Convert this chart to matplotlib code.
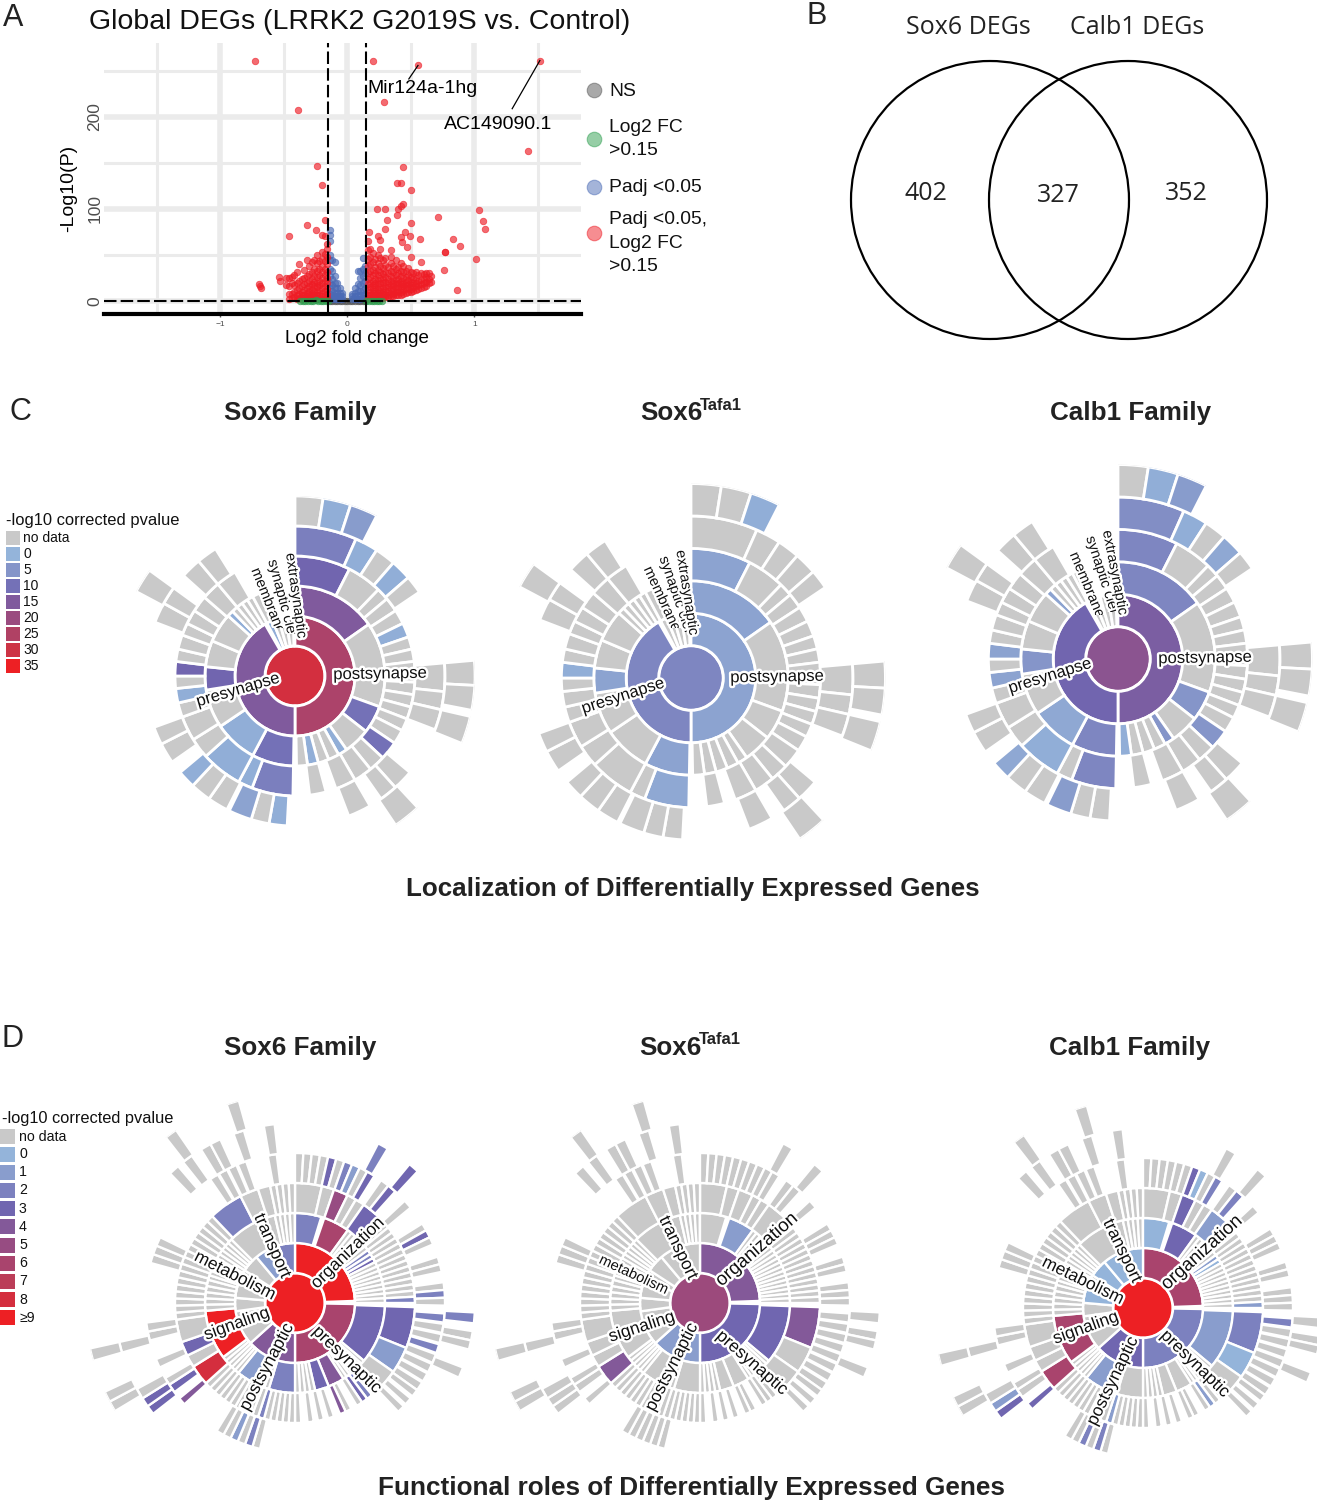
import matplotlib
matplotlib.use('Agg')
import matplotlib.pyplot as plt
import matplotlib.patheffects as pe
from matplotlib.colors import LinearSegmentedColormap
from matplotlib.patches import Circle, Rectangle
from matplotlib.transforms import Bbox
import numpy as np

plt.rcParams['font.family'] = ['Liberation Sans', 'DejaVu Sans']

W, H = 1317, 1500
N = None

# --------A: VOLCANO DATA--------
red_x = [-0.73, 0.20, 0.556, 1.516, 0.29, -0.39, 1.42, -0.24, 0.44, -0.20, 0.39, 0.42, 0.50, 0.23, 0.30, 0.40,
         0.42, 0.44, 1.04, 1.07, 1.08, 0.71, 0.39, 0.31, 0.50, -0.18, -0.32, -0.25, 0.30, 0.45, -0.20, -0.18,
         -0.46, 0.24, 0.26, 0.17, 0.57, 0.49, 0.42, 0.43, 0.83, 0.89, 0.77, 0.77, 1.01, 0.76, 0.86, 0.47, 0.34,
         0.26, 0.58, 0.50, -0.54, -0.53, -0.70, -0.69, -0.68]
red_y = [261, 260, 256, 261, 216, 207, 163, 146, 145, 126, 128, 128, 120, 100, 100, 100, 103, 105, 99, 87, 78,
         91, 93, 88, 85, 88, 82, 77, 78, 75, 72, 71, 71, 71, 66, 75, 67, 71, 69, 64, 67, 60, 53, 53, 46, 34, 12,
         59, 55, 56, 42, 48, 26, 22, 18, 16, 14]

# столбцы плотного облака: x -> значения -log10(P)
cloud_right = [(0.16, [3, 7, 12, 18, 24, 30, 38, 46, 55, 65]), (0.18, [2, 6, 10, 15, 20, 26, 33, 40, 48, 56]),
               (0.20, [2, 5, 9, 13, 17, 22, 28, 34, 42, 52]), (0.22, [3, 7, 11, 15, 19, 24, 30, 37, 46]),
               (0.24, [2, 5, 9, 13, 18, 23, 28, 34, 41, 50]), (0.26, [3, 7, 11, 15, 20, 25, 31, 38, 47]),
               (0.28, [3, 6, 10, 14, 19, 24, 29, 36, 44]), (0.30, [4, 8, 12, 16, 21, 26, 32, 39, 47]),
               (0.32, [4, 7, 11, 15, 19, 24, 30, 37]), (0.34, [5, 9, 13, 17, 22, 27, 33, 41, 48]),
               (0.36, [5, 8, 12, 16, 20, 25, 31, 38]), (0.38, [6, 10, 14, 18, 23, 28, 35, 44]),
               (0.40, [7, 11, 15, 19, 24, 30, 37]), (0.42, [7, 10, 14, 18, 22, 27, 33, 41]),
               (0.44, [8, 12, 16, 20, 25, 31, 38]), (0.46, [9, 13, 17, 21, 26, 33]),
               (0.48, [10, 14, 18, 23, 28, 36]), (0.50, [10, 13, 17, 21, 26, 31]), (0.52, [11, 15, 19, 24, 30]),
               (0.54, [12, 16, 20, 25, 31]), (0.56, [13, 17, 22, 28]), (0.58, [14, 18, 23, 30]),
               (0.60, [15, 19, 24, 29]), (0.62, [16, 21, 26, 30]), (0.64, [19, 24, 30]), (0.66, [21, 27])]
cloud_left = [(-0.16, [3, 8, 13, 19, 25, 32, 40, 48, 56, 62]), (-0.18, [2, 6, 11, 16, 22, 28, 35, 43, 51]),
              (-0.20, [2, 5, 9, 14, 19, 25, 31, 38, 46, 53]), (-0.22, [3, 7, 12, 17, 22, 28, 35, 43]),
              (-0.24, [2, 6, 10, 15, 20, 26, 33, 41, 50]), (-0.26, [3, 7, 11, 16, 21, 27, 35, 44]),
              (-0.28, [2, 5, 9, 13, 18, 24, 31, 42]), (-0.30, [3, 7, 11, 16, 22, 29, 38]),
              (-0.32, [2, 5, 9, 14, 20, 27, 45]), (-0.34, [3, 7, 12, 18, 25, 34]), (-0.36, [2, 6, 10, 16, 24]),
              (-0.38, [3, 8, 14, 22, 40]), (-0.40, [2, 6, 12, 20, 32]), (-0.42, [4, 10, 17, 28]),
              (-0.44, [3, 8, 20, 26]), (-0.46, [2, 8, 16, 25]), (-0.48, [17, 25])]
cloud_blue = [(-0.14, [3, 8, 14, 20, 27, 35, 45, 50, 65, 72, 77]), (-0.12, [2, 6, 11, 17, 24, 33, 44]),
              (-0.10, [2, 5, 9, 14, 20, 27, 42]), (-0.08, [2, 5, 9, 14, 20]), (-0.06, [2, 5, 9, 14]),
              (-0.04, [2, 5, 9]), (0.04, [2, 5, 8]), (0.06, [2, 5, 9, 14]), (0.08, [2, 6, 11, 18, 33]),
              (0.10, [2, 6, 11, 17, 25, 33]), (0.12, [3, 7, 12, 19, 27, 35, 47]), (0.14, [3, 8, 14, 22, 30, 38])]
green_x = [-0.37, -0.35, -0.33, -0.31, -0.29, -0.27, -0.25, -0.23, -0.21, -0.19, -0.17, -0.15,
           0.15, 0.17, 0.19, 0.21, 0.23, 0.25, 0.27]
green_y = [0.2, 0.4, 0.1, 0.5, 0.2, 0.3, 0.6, 0.1, 0.4, 0.5, 0.2, 0.3, 0.3, 0.2, 0.5, 0.3, 0.1, 0.5, 0.3]
grey_x = [-0.14, -0.12, -0.10, -0.08, -0.06, -0.04, -0.02, 0.0, 0.02, 0.04, 0.06, 0.08, 0.10, 0.12, 0.14]
grey_y = [0.2, 0.3, 0.1, 0.2, 0.4, 0.1, 0.1, 0.2, 0.1, 0.2, 0.1, 0.3, 0.2, 0.3, 0.1]

volcano_legend = ['NS', 'Log2 FC\n>0.15', 'Padj <0.05', 'Padj <0.05,\nLog2 FC\n>0.15']

# --------B: VENN DATA--------
venn_sets = ['Sox6 DEGs', 'Calb1 DEGs']
venn_counts = [402, 327, 352]

# --------C: LOCALIZATION SUNBURST--------
# строка: (размер в градусах, Sox6, Tafa1, Calb1); (размер,) - нет данных; отрицательный размер - пропуск
C_CORE = [31, 7, 17]
C_L1 = [(180, 24, 3, 14), (150, 15, 7, 12), (-2,), (6, 1, N, N), (6,), (7,), (7,)]
C_L2 = [(55, 15, 3, 7), (55,), (18, 10, N, 5), (17,), (6, 1, N, 5), (7,), (7,), (7, 1, N, N), (7, N, N, 1), (-2,),
        (27, 10, 3, 7), (28, 1, N, 2), (25,), (15, 12, 3, 5), (17,), (19,), (4, 1, N, 3), (4,), (4,), (4,), (4,), (8,)]
C_L3 = [(27, 12, 3, 7), (17,), (6,), (7,), (7,), (7, 1, N, N), (6,), (6,), (6,), (4,), (6,), (6,), (6,), (6,), (7,),
        (9, 10, N, 5), (8,), (9,), (10,), (-5,), (8,), (-8,), (20, 8, 2, 7), (7, 1, N, N), (20, 1, N, 1), (10,), (12,),
        (7,), (7, 1, N, 3), (6,), (7, 12, 1, 3), (6,), (7,), (6,), (7,), (8,), (9,), (10,)]
C_L4 = [(24, 8, N, 6), (9, 1, N, 1), (8,), (8, 1, N, 2), (7,), (-29,), (11,), (7,), (8,), (-19,), (8,), (7,), (-5,),
        (9,), (-24,), (7, 1, N, N), (7,), (9, 3, N, 4), (-1,), (8,), (8,), (7, 1, N, 2), (-5,), (8,), (7,), (-41,),
        (8,), (7,), (-6,), (8,), (8,)]
C_L5 = [(9,), (9, 1, N, 1), (9, 4, 1, 4), (-58,), (8,), (8,), (-2,), (9,), (-25,), (9,), (-152,), (8,)]

C_TITLES = ['Sox6 Family', 'Sox6', 'Calb1 Family']
C_LEGEND = [0, 5, 10, 15, 20, 25, 30, 35]

# --------D: FUNCTIONAL SUNBURST--------
D_CORE = [9, 5.3, 9]
D_L1 = [(88, 9, 4, 6), (-3,), (89, 6, 3, 2), (18, 4, 1, 3), (-7,), (23, 4, 1, 3), (34,), (13,), (18, N, N, 0), (10,),
        (17, N, N, 0), (16, 1, N, 0), (8,), (16, 2, N, 0)]
D_L2 = ([(17, 2, N, 0), (-2,), (17, 6, 1, 3)] + [(3,)] * 6 + [(3, 2, N, 1), (3, 2, N, 0), (3, 3, N, N)] + [(3,)] * 9
        + [(-2,), (38, 3, 3, 1)] + [(2.5,)] * 7 + [(10.5, 4, N, N), (9, 3, N, N)] + [(3.25,)] * 4
        + [(17, 2, N, N), (3,), (4, 2, N, N), (15, 1, N, 1)] + [(2.8,)] * 5 + [(32, 9, N, 6)] + [(4,)] * 5
        + [(3,)] * 10 + [(24,), (8,)] + [(3.2,)] * 4)
D_L3 = ([(13,), (6,), (7, 5, N, 3), (4.5,), (4.5,), (10, 3, N, 1)] + [(3,)] * 14 + [(3, 2, N, 1), (-2,), (20, 3, 4, 2),
        (13, 1, N, 0), (15,), (3, 2, N, N), (3, 3, N, 1), (3,), (-3,), (3,), (3, 4, N, N), (-3,), (3,), (-2,), (3,), (-2,),
        (3,), (-3,), (3,), (3,)] + [(3,)] * 4 + [(3, 2, N, 1)]
        + [(3,)] * 10 + [(10, 8, 4, 6), (6,), (7, 3, N, N), (11,)] + [(3.4,)] * 16 + [(16.6, 2, N, N), (9,), (6,)]
        + [(3,)] * 4)
D_L4 = ([(3.2,)] * 4 + [(3.2, 3, N, N), (3.2,), (3.2, 2, N, 3), (3.2, 1, N, 0), (3.2,), (3.2, 3, N, 2), (-3,), (3.5,),
        (3.5, 3, N, 2), (-5,), (3.5,), (-7.5,), (3,), (3, 3, N, N), (3,), (-5,), (3,), (3,), (-4,), (3,), (3, 2, N, N), (3,),
        (-3,), (3.5, 2, N, 2), (-0.5,), (3.5,), (-0.5,), (3.5,), (-0.5,), (3.5, 2, N, N), (-0.5,), (3.5,), (-0.5,), (3.5,),
        (-0.5,), (3.5,), (-0.5,), (3.5,), (3,), (-1,), (3,), (-1,), (3,), (-57,), (3,),
        (3, 2, N, 2), (3,), (3, 1, N, 2), (3,), (3,), (-16,), (3, 4, N, 3), (-3,), (3.5, 3, N, N), (3,), (-4.5,), (3.5,), (-7.5,),
        (3.5,), (3.5,), (-23,), (3.5,), (3.5,), (3.5,), (-29.5,), (3.5,), (-0.5,), (3.5,), (-0.5,), (3.5,), (-0.5,), (3.5,), (-8.5,), (3.5,)])
D_L5 = [(-27.5,), (3.5, 2, N, N), (-8.5,), (3.5, 3, N, N), (-50,), (3.5, 2, N, N), (-2.5,), (3,), (3,), (-6,), (3.5,), (-117.5,),
        (3, 3, N, 3), (3, 3, N, 1), (3.5,), (-12.5,), (3.5,), (-58.5,), (3.5,), (-2,), (3.5,), (-3.5,), (3.5,), (3.5,), (-4.5,), (3.5,),
        (-6.5,), (3.5,)]
D_L6 = [(-239,), (3,), (3,), (-9,), (3.5,), (-64.5,), (3.5,), (-15.5,), (3.5,)]

D_LEGEND = ['0', '1', '2', '3', '4', '5', '6', '7', '8', '≥9']

cmap = LinearSegmentedColormap.from_list('pval', [(0, '#94b4da'), (0.1, '#8a9fce'), (0.33, '#6f66b1'),
                                                 (0.55, '#964c83'), (0.78, '#bb3d58'), (1, '#ed2024')])
NO_DATA = '#c9c9c9'

fig = plt.figure(figsize=(W / 100, H / 100), dpi=100)


def px_axes(x0, y0, x1, y1, **kw):
    return fig.add_axes([x0 / W, 1 - y1 / H, (x1 - x0) / W, (y1 - y0) / H], **kw)


# --------DRAW THE VOLCANO--------
ax = px_axes(104, 43, 581, 314)
ax.set_xlim(-1.917, 1.84)
ax.set_ylim(-14.1, 280)
ax.set_xticks([-1, 0, 1])
ax.set_xticks([-1.5, -0.5, 0.5, 1.5], minor=True)
ax.set_yticks([0, 100, 200])
ax.set_yticks([50, 150, 250], minor=True)
ax.grid(which='major', color='#ebebeb', linewidth=4)
ax.grid(which='minor', color='#ebebeb', linewidth=2.2)
ax.set_axisbelow(True)
for s in ['top', 'left', 'right']:
    ax.spines[s].set_visible(False)
ax.spines['bottom'].set_linewidth(3)
ax.tick_params(axis='x', which='major', labelsize=6, labelcolor='#4d4d4d', length=2, width=1, color='#555555', pad=3)
ax.tick_params(axis='y', which='major', labelsize=12.5, labelcolor='#4d4d4d', length=0, pad=1)
ax.tick_params(which='minor', length=0)
for t in ax.get_yticklabels():
    t.set_rotation(90)
    t.set_va('center')
ax.set_xlabel('Log2 fold change', fontsize=13.5, labelpad=1)
ax.xaxis.set_label_coords(0.53, -0.06)
ax.set_ylabel('-Log10(P)', fontsize=14)
ax.yaxis.set_label_coords(-0.057, 0.465)

pt = dict(s=22, alpha=0.65, linewidths=0.6, zorder=3)
ax.scatter(grey_x, grey_y, color='#555555', **pt)
bx = [c[0] for c in cloud_blue for _ in c[1]]
by = [v for c in cloud_blue for v in c[1]]
ax.scatter(bx, by, color='#4a6ab5', **pt)
rx = [c[0] for c in cloud_left + cloud_right for _ in c[1]] + red_x
ry = [v for c in cloud_left + cloud_right for v in c[1]] + red_y
ax.scatter(rx, ry, color='#ee1c25', **pt)
ax.scatter(green_x, green_y, color='#2e9e4f', **pt)

dash = dict(color='black', linewidth=1.5, linestyle=(0, (6, 2)), zorder=4)
ax.axvline(-0.15, **dash)
ax.axvline(0.15, **dash)
ax.axhline(0.5, **dash)

ax.plot([0.556, 0.484], [255.6, 241], color='black', linewidth=0.9, zorder=5)
ax.plot([1.516, 1.298], [261, 208.7], color='black', linewidth=0.9, zorder=5)
ax.text(0.594, 231, 'Mir124a-1hg', fontsize=14, ha='center', va='center', zorder=6)
ax.text(1.186, 192, 'AC149090.1', fontsize=14, ha='center', va='center', zorder=6)


# --------DRAW THE SUNBURSTS--------
def sunburst(cx, cy, scale, core, rings, col, vmax, edge):
    rmax = 30 * (len(rings) + 1)
    half = rmax * scale
    pol = px_axes(cx - half, cy - half, cx + half, cy + half, projection='polar')
    pol.set_theta_zero_location('N')
    pol.set_theta_direction(-1)
    pol.set_ylim(0, rmax)
    pol.axis('off')
    pol.bar(0, 28.5, width=2 * np.pi, bottom=0, color=cmap(core[col] / vmax), linewidth=0)
    for level, rows in enumerate(rings):
        pos = 0
        for row in rows:
            size = row[0]
            if size < 0:
                pos -= size
                continue
            v = row[col + 1] if len(row) > 1 else N
            c = NO_DATA if v is N else cmap(v / vmax)
            pol.bar(np.deg2rad(pos + size / 2), 30, width=np.deg2rad(size), bottom=30 * (level + 1),
                    color=c, edgecolor='white', linewidth=edge)
            pos += size


C_RINGS = [C_L1, C_L2, C_L3, C_L4, C_L5]
D_RINGS = [D_L1, D_L2, D_L3, D_L4, D_L5, D_L6]
sunburst(295, 676, 1.0, C_CORE, C_RINGS, 0, 35, 2.0)
sunburst(691, 678, 1.08, C_CORE, C_RINGS, 1, 35, 2.0)
sunburst(1118, 659, 1.08, C_CORE, C_RINGS, 2, 35, 2.0)
sunburst(295, 1303, 1.0, D_CORE, D_RINGS, 0, 9, 1.7)
sunburst(700, 1303, 1.0, D_CORE, D_RINGS, 1, 9, 1.7)
sunburst(1143, 1308, 1.0, D_CORE, D_RINGS, 2, 9, 1.7)

# --------OVERLAY IN PIXELS: TEXT, LEGENDS, VENN--------
over = px_axes(0, 0, W, H)
over.set_xlim(0, W)
over.set_ylim(H, 0)
over.axis('off')
over.patch.set_alpha(0)
halo = [pe.withStroke(linewidth=3.5, foreground='white')]


def label(x, y, s, rot=0, size=12, clip_y=None):
    t = over.text(x, y, s, rotation=rot, rotation_mode='anchor', ha='center', va='center', fontsize=size,
                  color='#111111', path_effects=halo)
    if clip_y is not None:
        t.set_clip_on(True)
        t.set_clip_box(Bbox([[0, H - clip_y], [W, H]]))


for x, y, s in [(13, 18, 'A'), (817, 16, 'B'), (20, 412, 'C'), (12, 1039, 'D')]:
    over.text(x, y, s, fontsize=22, ha='center', va='center', color='#222222')
over.text(360, 22, 'Global DEGs (LRRK2 G2019S vs. Control)', fontsize=20.5, ha='center', va='center', color='#111111')

# легенда вулкана
leg_colors = ['#555555', '#2e9e4f', '#4a6ab5', '#ee1c25']
for yy, ty, txt, c in zip([90, 139, 187, 233], [91, 139, 188, 243], volcano_legend, leg_colors):
    over.scatter([594], [yy], s=110, color=c, alpha=0.5, linewidths=0.8, edgecolor=c)
    over.text(609, ty, txt, fontsize=13.9, ha='left', va='center', linespacing=1.5, color='#111111')

# венн
for cx_ in [990, 1128]:
    over.add_patch(Circle((cx_, 200), 139, fill=False, edgecolor='black', linewidth=1.6))
over.text(968, 27, venn_sets[0], fontsize=18, ha='center', va='center', family='Open Sans', color='#222222')
over.text(1137, 27, venn_sets[1], fontsize=18, ha='center', va='center', family='Open Sans', color='#222222')
for x, y, n in zip([926, 1058, 1186], [194, 196, 194], venn_counts):
    over.text(x, y, str(n), fontsize=18, ha='center', va='center', family='Open Sans', color='#222222')

# заголовки C и D
for row_y, xs, sx in [(413, [300, 671, 1131], 671), (1048, [300, 670, 1130], 670)]:
    for i in range(3):
        if i == 1:
            over.text(sx, row_y, C_TITLES[1], fontsize=18.7, weight='bold', ha='center', va='center', color='#222222')
            over.text(sx + 29, row_y - 8, 'Tafa1', fontsize=12, weight='bold', ha='left', va='center', color='#222222')
        else:
            over.text(xs[i], row_y, C_TITLES[i], fontsize=18.7, weight='bold', ha='center', va='center', color='#222222')
over.text(693, 889, 'Localization of Differentially Expressed Genes', fontsize=18.75, weight='bold', ha='center',
          va='center', color='#222222')
over.text(692, 1488, 'Functional roles of Differentially Expressed Genes', fontsize=18.8, weight='bold', ha='center',
          va='center', color='#222222')

# легенда C
over.text(6, 521, '-log10 corrected pvalue', fontsize=11.9, ha='left', va='center', color='#111111')
over.add_patch(Rectangle((6, 531), 14, 14, color=NO_DATA, linewidth=0))
over.text(23, 538, 'no data', fontsize=10, ha='left', va='center', color='#111111')
for i, v in enumerate(C_LEGEND):
    yy = 554 + i * 16
    over.add_patch(Rectangle((6, yy - 7), 14, 14, color=cmap(v / 35), linewidth=0))
    over.text(23, yy, str(v), fontsize=10, ha='left', va='center', color='#111111')

# легенда D
over.text(2, 1118, '-log10 corrected pvalue', fontsize=11.8, ha='left', va='center', color='#111111')
over.add_patch(Rectangle((0, 1129), 15, 15, color=NO_DATA, linewidth=0))
over.text(19, 1137, 'no data', fontsize=10.2, ha='left', va='center', color='#111111')
for i, s in enumerate(D_LEGEND):
    yy = 1154 + i * 18.2
    over.add_patch(Rectangle((0, yy - 7.5), 15, 15, color=cmap(i / 9), linewidth=0))
    over.text(19, yy, s, fontsize=10.2, ha='left', va='center', color='#111111')

# подписи секторов C
for x, y, s, rot, fs, clip in [(380, 674, 'postsynapse', 1, 12, N), (238, 690, 'presynapse', 16.5, 12, N),
                               (268, 601, 'membrane', -68, 10.5, 628), (283, 601, 'synaptic cleft', -75, 10.5, 634),
                               (296, 596, 'extrasynaptic', -82, 10.5, N),
                               (777, 677, 'postsynapse', 1, 12, N), (623, 696, 'presynapse', 18, 12, N),
                               (662, 599, 'membrane', -65, 10.5, 628), (677, 597, 'synaptic cleft', -71, 10.5, 632),
                               (687, 593, 'extrasynaptic', -81, 10.5, N),
                               (1205, 658, 'postsynapse', 1, 12, N), (1050, 676, 'presynapse', 17.5, 12, N),
                               (1087, 585, 'membrane', -67, 10.5, 615), (1103, 577, 'synaptic cleft', -72, 10.5, 612),
                               (1115, 573, 'extrasynaptic', -79, 10.5, N)]:
    label(x, y, s, rot, fs, clip)

# подписи секторов D
for x, y, s, rot, fs in [(272, 1246, 'transport', -66, 12.5), (348, 1253, 'organization', 44, 12.5),
                         (235, 1276, 'metabolism', -27, 12.5), (237, 1324, 'signaling', 20, 12.5),
                         (267, 1367, 'postsynaptic', 62, 12.5), (347, 1360, 'presynaptic', -44, 12.5),
                         (678, 1248, 'transport', -64, 12.5), (757, 1250, 'organization', 41, 13.5),
                         (634, 1275, 'metabolism', -25, 10.5), (642, 1327, 'signaling', 18, 12.5),
                         (672, 1367, 'postsynaptic', 63, 12.5), (752, 1363, 'presynaptic', -41, 12.5),
                         (1122, 1251, 'transport', -64, 12.5), (1202, 1253, 'organization', 42, 13.5),
                         (1083, 1281, 'metabolism', -26, 12.5), (1086, 1328, 'signaling', 20, 12.5),
                         (1113, 1381, 'postsynaptic', 64, 12.5), (1195, 1364, 'presynaptic', -44, 12.5)]:
    label(x, y, s, rot, fs)

fig.savefig('out.png', dpi=100, facecolor='white')
